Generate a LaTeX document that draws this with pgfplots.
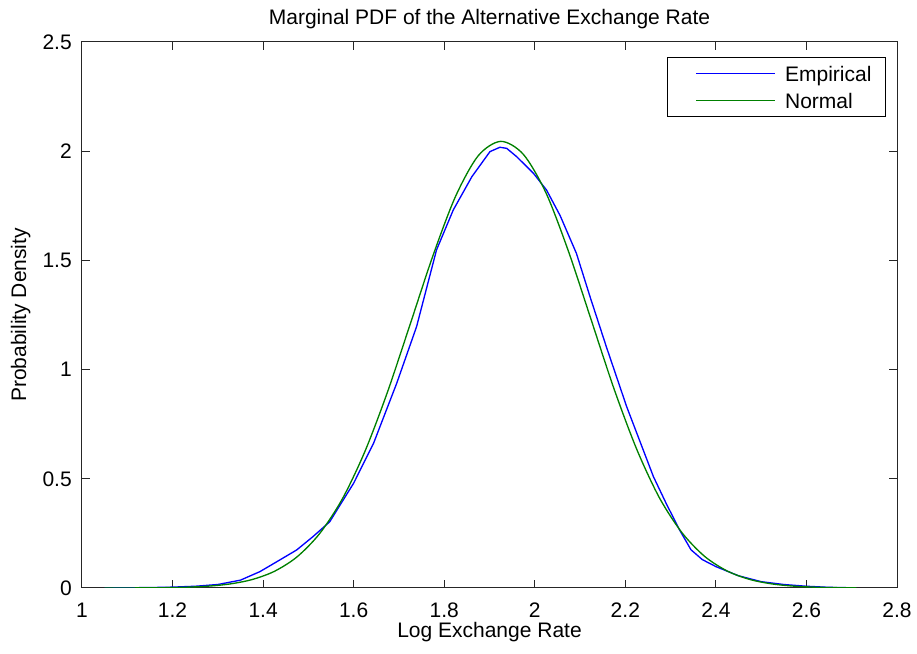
\documentclass[border=0pt]{standalone}
\usepackage{pgfplots}
\pgfplotsset{compat=1.18}
\usepackage{fontspec}
\setmainfont{Liberation Sans}
\definecolor{mblue}{rgb}{0,0,1}
\definecolor{mgreen}{rgb}{0,0.5,0}
\newcommand{\ff}{\fontsize{15.75}{18.5}\selectfont}
\begin{document}
\ff
\begin{tikzpicture}
\begin{axis}[
  width=611.25pt, height=409.5pt, scale only axis,
  xmin=1, xmax=2.8, ymin=0, ymax=2.5,
  xtick={1,1.2,...,2.8}, ytick={0,0.5,...,2.5},
  tick align=inside, tick pos=both,
  major tick length=6pt,
  /pgf/number format/assume math mode=true,
  tick label style={font=\ff},
  xticklabel style={anchor=north, inner sep=0pt, yshift=-11pt},
  yticklabel style={anchor=east, inner sep=0pt, xshift=-7.5pt},
  every axis title shift=0pt,
  title={Marginal PDF of the Alternative Exchange Rate},
  title style={at={(axis description cs:0.5,1)}, anchor=base, yshift=12.75pt,
    font=\ff, inner sep=0pt},
  xlabel={Log Exchange Rate},
  xlabel style={at={(axis description cs:0.5,0)}, anchor=base, yshift=-36.75pt,
    font=\ff, inner sep=0pt},
  ylabel={Probability Density},
  ylabel style={at={(axis description cs:-0.0687,0.5)}, anchor=base, rotate=0,
    font=\ff, inner sep=0pt},
  axis line style={black!85, line width=0.75pt},
  every tick/.style={black!85, line width=0.75pt},
  legend style={at={(axis description cs:1,1)}, anchor=north east,
    xshift=-8.25pt, yshift=-11.25pt, draw=black, line width=0.75pt,
    font=\ff, inner xsep=10.5pt, inner ysep=6.5pt,
    row sep=9pt, column sep=6.75pt,
    nodes={inner sep=0pt, text height=11.3pt, text depth=0pt},
    cells={anchor=west}},
  legend image code/.code={\path (0pt,0pt); \draw[#1] (10.5pt,0pt) -- (69.75pt,0pt);},
]
\coordinate (sw) at (rel axis cs:0,0);
\coordinate (ne) at (rel axis cs:1,1);
\addlegendimage{mblue, line width=1pt}
\addlegendentry{Empirical}
\addlegendimage{mgreen, line width=1pt}
\addlegendentry{Normal}
\addplot[mblue, line width=1pt, forget plot] coordinates {
(1.05,0.000) (1.10,0.001) (1.15,0.002) (1.20,0.004) (1.25,0.008) (1.30,0.016)
(1.35,0.036) (1.393,0.075) (1.43,0.120) (1.474,0.174) (1.51,0.235) (1.547,0.303)
(1.570,0.380) (1.600,0.480) (1.644,0.663) (1.695,0.937) (1.739,1.197) (1.783,1.548)
(1.820,1.731) (1.861,1.883) (1.901,1.998) (1.923,2.018) (1.938,2.013) (1.960,1.975)
(1.997,1.899) (2.026,1.822) (2.056,1.705) (2.092,1.532) (2.122,1.334) (2.158,1.105)
(2.203,0.830) (2.262,0.510) (2.29,0.388) (2.32,0.265) (2.345,0.175) (2.37,0.130)
(2.40,0.098) (2.45,0.056) (2.50,0.029) (2.55,0.016) (2.60,0.008) (2.65,0.003) (2.70,0.001)
};
\addplot[mgreen, line width=1pt, smooth, forget plot] coordinates {
(1.050,0.00008) (1.075,0.00015) (1.125,0.00045) (1.175,0.00126) (1.225,0.00326)
(1.275,0.0079) (1.325,0.0180) (1.375,0.0383) (1.425,0.0764) (1.475,0.1427)
(1.525,0.2495) (1.575,0.408) (1.625,0.626) (1.675,0.899) (1.725,1.209)
(1.775,1.521) (1.825,1.793) (1.875,1.979) (1.925,2.045) (1.975,1.985)
(2.025,1.808) (2.075,1.538) (2.125,1.225) (2.175,0.912) (2.225,0.636)
(2.275,0.414) (2.325,0.2535) (2.375,0.1450) (2.425,0.0778) (2.475,0.0390)
(2.525,0.0184) (2.575,0.0081) (2.625,0.00334) (2.675,0.00129) (2.710,0.0006)
};
\end{axis}
\path ([xshift=-61.5pt,yshift=-48.75pt]sw) rectangle ([xshift=15pt,yshift=31.5pt]ne);
\end{tikzpicture}
\end{document}
